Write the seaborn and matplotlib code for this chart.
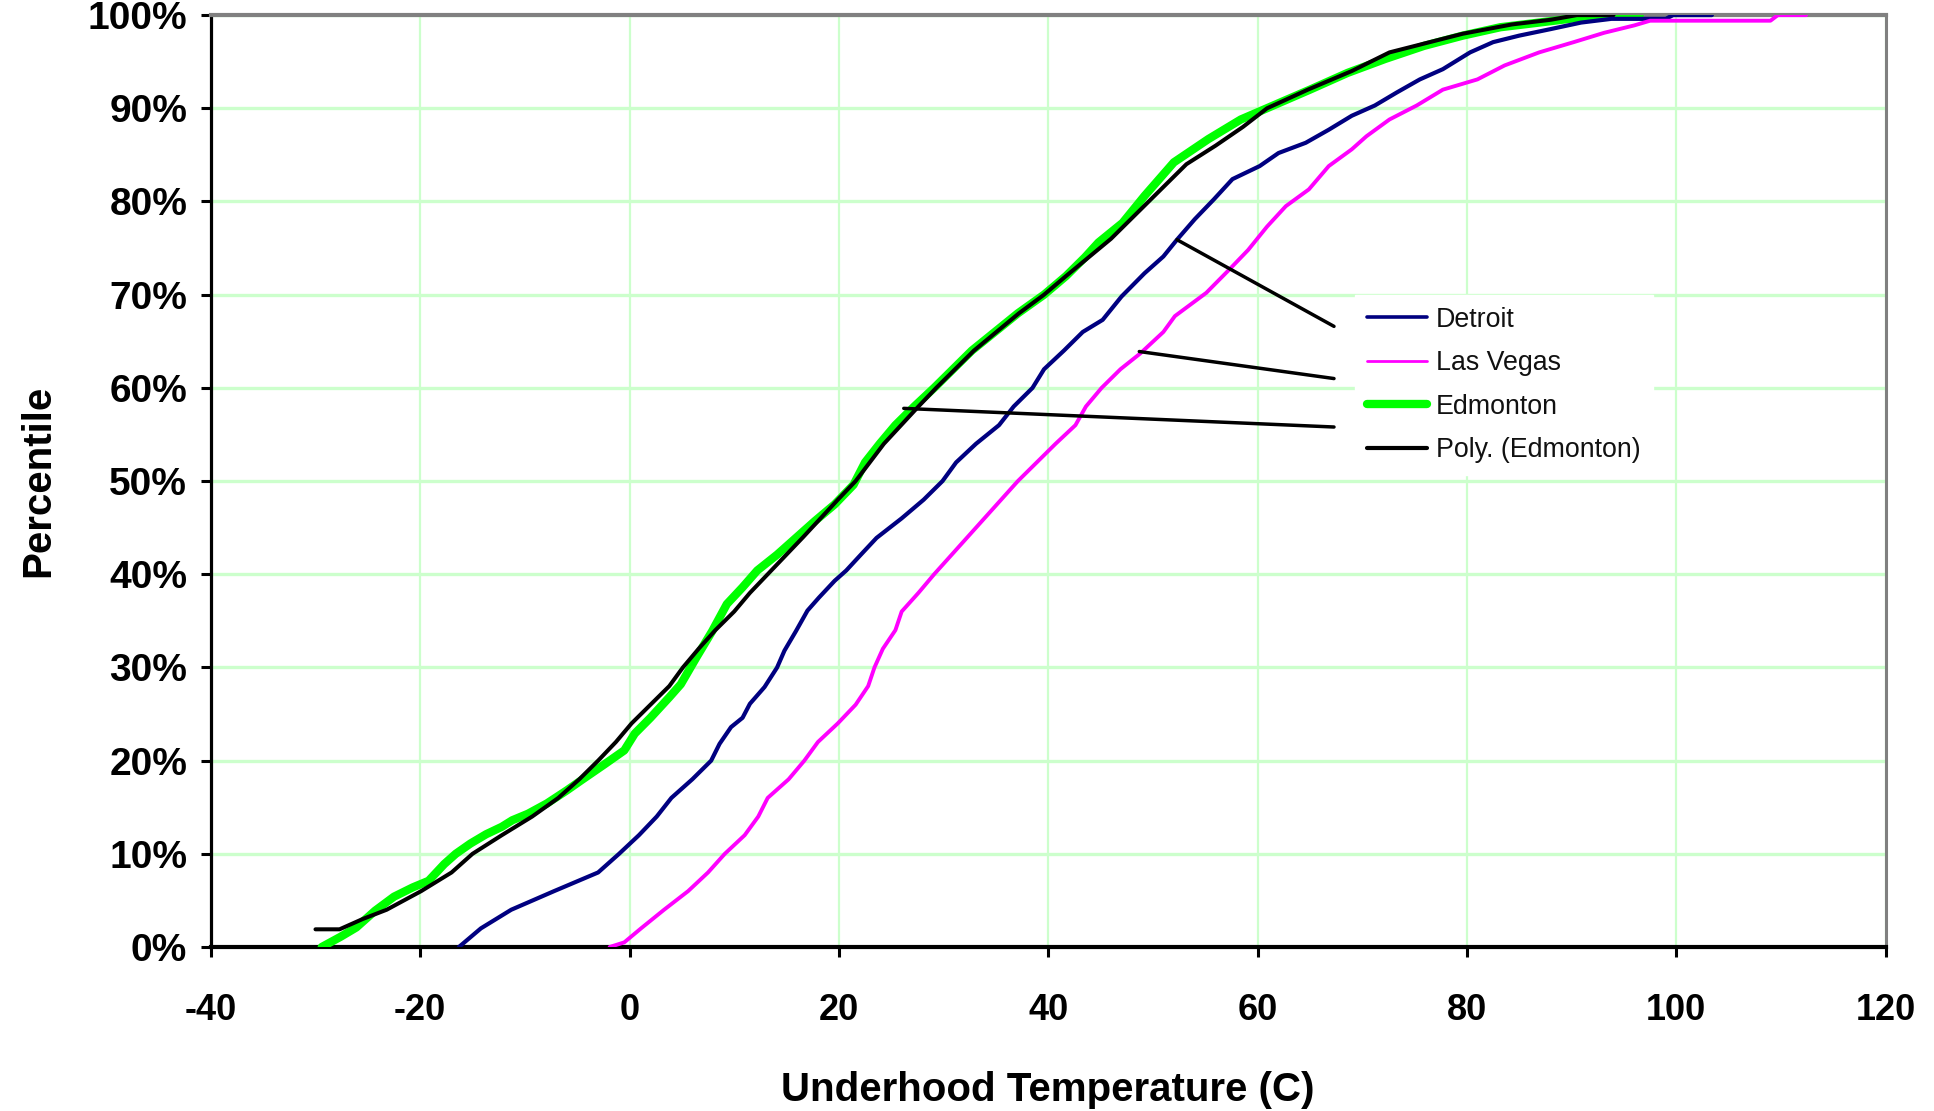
import matplotlib
matplotlib.use("Agg")
import matplotlib.pyplot as plt
import seaborn as sns
import pandas as pd
from matplotlib.lines import Line2D

# ---------------- data ----------------
edm_pct = [0, 1.1, 2.1, 3.9, 5.4, 6.4, 7.1, 8.9, 10, 11.1, 12.1, 12.9, 13.6, 14.3, 15.4,
           16.8, 17.9, 19.6, 21.1, 22.9, 24.6, 26.8, 28.2, 31.1, 33.9, 36.8, 38.6, 40.4,
           42.1, 43.9, 45.7, 47.5, 49.6, 52, 54, 56, 58, 60, 62, 64, 66, 68, 70, 72, 74,
           75.6, 77.7, 80.6, 82.4, 84.2, 86.7, 88.8, 90.3, 92.0, 93.8, 95.3, 96.7, 97.8,
           98.7, 99.2, 99.7, 100, 100]
edm_temp = [-29.4, -27.6, -26.1, -24.3, -22.5, -20.7, -19.2, -17.7, -16.6, -15.2, -13.7,
            -12.2, -11.2, -9.7, -7.9, -6.0, -4.6, -2.4, -0.5, 0.5, 2.0, 3.8, 4.9, 6.4, 7.9,
            9.3, 10.8, 12.2, 14.1, 15.9, 17.7, 19.6, 21.4, 22.5, 23.9, 25.4, 27.2, 29.1,
            30.9, 32.7, 34.9, 37.1, 39.6, 41.7, 43.5, 44.8, 47.1, 49.2, 50.6, 52.0, 55.3,
            58.4, 61.5, 65.0, 68.6, 72.2, 75.9, 79.6, 83.2, 86.9, 90.5, 94.2, 96.5]

poly_pct = [1.9, 1.9, 3, 4, 6, 8, 10, 12, 14, 16, 18, 20, 22, 24, 26, 28, 30, 32, 34, 36,
            38, 40, 44, 48, 50, 54, 58, 60, 64, 68, 70, 72, 76, 80, 84, 86, 88, 90, 92, 94,
            96, 98, 99, 99.5, 100, 100]
poly_temp = [-30.0, -27.7, -25.5, -23.2, -19.9, -17.0, -15.0, -12.2, -9.3, -6.8, -4.8,
             -3.0, -1.3, 0.2, 2.0, 3.8, 5.1, 6.6, 8.2, 10.0, 11.5, 13.2, 16.6, 19.9, 21.6,
             24.3, 27.6, 29.3, 32.9, 37.2, 39.6, 41.7, 46.0, 49.6, 53.2, 56.0, 58.6, 60.9,
             64.8, 69.0, 72.6, 79.6, 84.3, 88.0, 90.5, 94.0]

det_pct = [0, 2, 4, 6, 8, 10, 12, 14, 16, 18, 20, 21.8, 23.6, 24.6, 26.1, 27.9, 30, 31.8,
           33.9, 36.1, 37.5, 39.3, 40.4, 42.1, 43.9, 46, 48, 50, 52, 54, 56, 58, 60, 62,
           64, 66, 67.3, 69.8, 72.3, 74.1, 75.9, 78.1, 80.2, 82.4, 83.8, 85.2, 86.3, 87.7,
           89.2, 90.3, 91.7, 93.1, 94.2, 96.0, 97.1, 97.8, 98.5, 99.2, 99.6, 99.6, 100, 100]
det_temp = [-16.3, -14.2, -11.3, -7.2, -3.0, -1.0, 0.9, 2.6, 4.0, 6.0, 7.8, 8.6, 9.7, 10.8,
            11.5, 12.9, 14.1, 14.8, 15.9, 17.0, 18.1, 19.6, 20.7, 22.1, 23.6, 26.0, 28.1,
            29.9, 31.2, 33.1, 35.3, 36.7, 38.5, 39.6, 41.5, 43.3, 45.2, 47.0, 49.2, 51.0,
            52.3, 54.0, 55.8, 57.6, 60.2, 62.0, 64.6, 66.8, 69.0, 71.2, 73.3, 75.5, 77.7,
            80.3, 82.5, 85.0, 88.0, 90.9, 93.8, 99.0, 99.7, 103.4]

lv_pct = [0, 0.5, 2, 4, 6, 8, 10, 12, 14, 16, 18, 20, 22, 24, 26, 28, 30, 32, 34, 36, 38,
          40, 44, 48, 50, 52, 54, 56, 58, 60, 62, 63.7, 66, 67.7, 70.2, 72.7, 74.8, 77.3,
          79.5, 81.3, 83.8, 85.6, 87.0, 88.8, 90.3, 92.0, 93.1, 94.6, 96.0, 97.1, 98.1,
          98.9, 99.4, 99.4, 100, 100]
lv_temp = [-1.9, -0.5, 1.1, 3.3, 5.6, 7.5, 9.1, 11.0, 12.3, 13.2, 15.2, 16.7, 18.0, 19.9,
           21.6, 22.8, 23.4, 24.2, 25.4, 26.0, 27.6, 29.1, 32.3, 35.5, 37.1, 38.9, 40.7,
           42.6, 43.6, 45.1, 46.9, 48.8, 51.0, 52.1, 55.1, 57.3, 59.1, 60.9, 62.7, 64.9,
           66.8, 69.0, 70.4, 72.6, 75.2, 77.7, 81.0, 83.6, 86.9, 90.2, 93.1, 96.0, 97.5,
           109.0, 109.7, 112.4]

series_names = ["Detroit", "Las Vegas", "Edmonton", "Poly. (Edmonton)"]
x_ticks = [-40, -20, 0, 20, 40, 60, 80, 100, 120]
y_ticks = [0, 10, 20, 30, 40, 50, 60, 70, 80, 90, 100]

# leader lines (annotation): curve point -> legend edge
leaders = [((52.3, 75.9), (67.3, 66.6)),
           ((48.7, 63.9), (67.3, 61.0)),
           ((26.2, 57.8), (67.3, 55.8))]

# ---------------- styling ----------------
sns.set_theme(style="white")
plt.rcParams['font.family'] = ['Liberation Sans', 'DejaVu Sans']

colors = {"Detroit": "#000080", "Las Vegas": "#ff00ff",
          "Edmonton": "#00ff00", "Poly. (Edmonton)": "#000000"}
widths = {"Detroit": 3.0, "Las Vegas": 2.8, "Edmonton": 6.0, "Poly. (Edmonton)": 2.9}

fig = plt.figure(figsize=(19.34, 11.11), dpi=100)
fig.patch.set_facecolor("white")
ax = fig.add_axes([0.109, 0.1476, 0.866, 0.8388])

frames = {
    "Edmonton": pd.DataFrame({"temp": edm_temp, "pct": edm_pct}),
    "Poly. (Edmonton)": pd.DataFrame({"temp": poly_temp, "pct": poly_pct}),
    "Detroit": pd.DataFrame({"temp": det_temp, "pct": det_pct}),
    "Las Vegas": pd.DataFrame({"temp": lv_temp, "pct": lv_pct}),
}
zorders = {"Edmonton": 3, "Poly. (Edmonton)": 4, "Detroit": 5, "Las Vegas": 6}
for name, df in frames.items():
    sns.lineplot(data=df, x="temp", y="pct", ax=ax, estimator=None, sort=False,
                 color=colors[name], linewidth=widths[name], legend=False,
                 zorder=zorders[name], solid_capstyle="round", solid_joinstyle="round")

for (p0, p1) in leaders:
    ax.plot([p0[0], p1[0]], [p0[1], p1[1]], color="black", lw=2.5,
            solid_capstyle="round", zorder=7)

ax.set_xlim(-40, 120)
ax.set_ylim(0, 100)
ax.set_xticks(x_ticks)
ax.set_xticklabels([str(v) for v in x_ticks])
ax.set_yticks(y_ticks)
ax.set_yticklabels([f"{v}%" for v in y_ticks])

ax.set_axisbelow(True)
ax.xaxis.grid(True, color="#ccffcc", linewidth=1.6)
ax.yaxis.grid(True, color="#ccffcc", linewidth=2.4)

for s in ["left", "bottom"]:
    ax.spines[s].set_color("black")
ax.spines["left"].set_linewidth(2.3)
ax.spines["bottom"].set_linewidth(3.0)
ax.spines["top"].set_color("#808080")
ax.spines["top"].set_linewidth(3.0)
ax.spines["right"].set_color("#808080")
ax.spines["right"].set_linewidth(2.2)

ax.tick_params(axis="both", which="major", direction="out", length=7, width=2.2,
               color="black", bottom=True, left=True)
ax.tick_params(axis="x", labelsize=26, pad=26)
ax.tick_params(axis="y", labelsize=28, pad=10)
for lab in ax.get_xticklabels() + ax.get_yticklabels():
    lab.set_fontweight("bold")
    lab.set_color("black")

ax.set_xlabel("Underhood Temperature (C)", fontsize=29, fontweight="bold",
              color="black", labelpad=31)
ax.set_ylabel("Percentile", fontsize=29, fontweight="bold", color="black", labelpad=22)

leg_widths = {"Detroit": 2.6, "Las Vegas": 2.0, "Edmonton": 6.0, "Poly. (Edmonton)": 3.0}
handles = [Line2D([], [], color=colors[n], lw=leg_widths[n], solid_capstyle="round")
           for n in series_names]
leg = ax.legend(handles, series_names, loc="upper left", bbox_to_anchor=(0.683, 0.700),
                borderaxespad=0, frameon=True, fancybox=False, framealpha=1,
                edgecolor="white", facecolor="white", fontsize=19.3,
                handlelength=2.25, handletextpad=0.34, labelspacing=0.65, borderpad=0.45)
leg.set_zorder(8)
for t in leg.get_texts():
    t.set_color("#111111")

fig.savefig("out.png", dpi=100, facecolor="white")
